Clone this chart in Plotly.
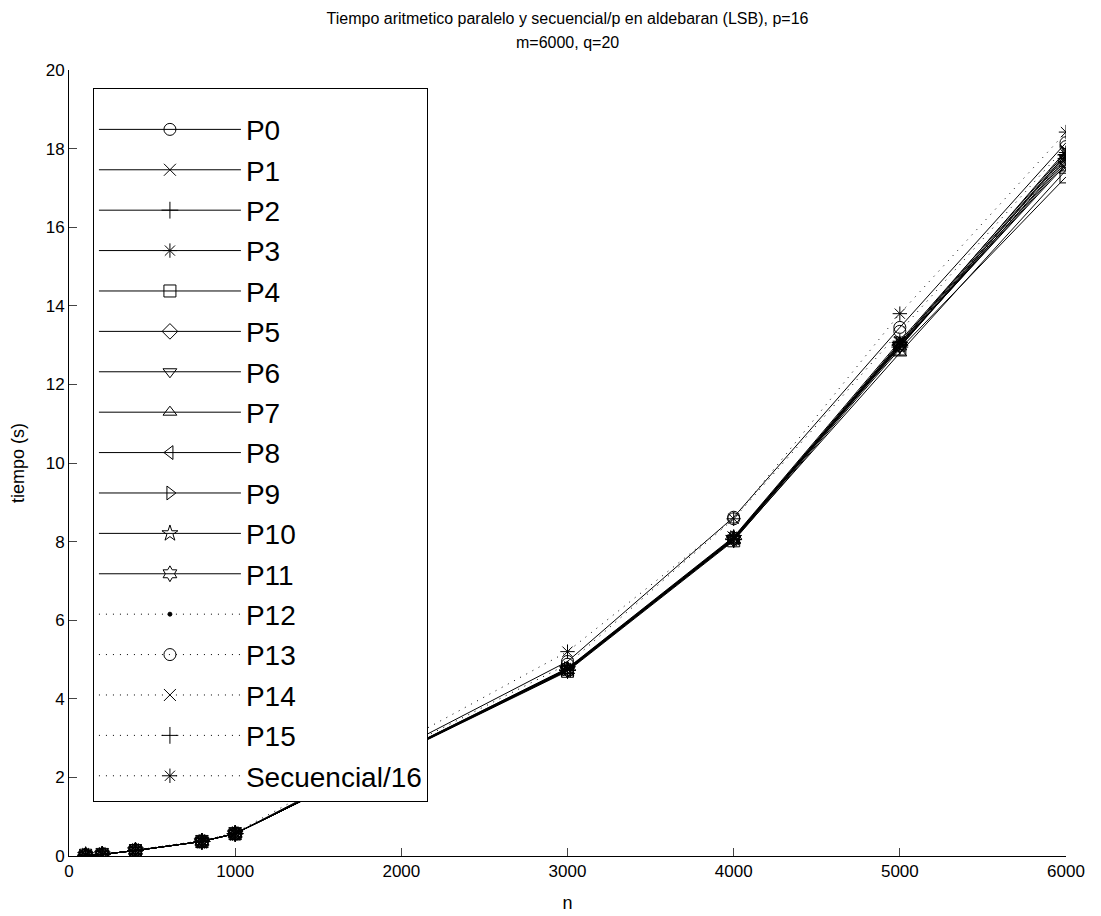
import plotly.graph_objects as go

n = [100, 200, 400, 800, 1000, 3000, 4000, 5000, 6000]

# tiempos (s)
low = [0.02, 0.04, 0.14, 0.37, 0.57]
P0 = low + [4.95, 8.62, 13.45, 18.15]
P1 = low + [4.75, 8.10, 13.05, 17.95]
P2 = low + [4.72, 8.05, 12.95, 17.85]
P3 = low + [4.78, 8.12, 13.10, 17.90]
P4 = low + [4.70, 8.02, 12.90, 17.28]
P5 = low + [4.74, 8.08, 13.00, 17.70]
P6 = low + [4.76, 8.06, 12.95, 17.75]
P7 = low + [4.72, 8.04, 12.80, 17.45]
P8 = low + [4.73, 8.07, 13.02, 17.80]
P9 = low + [4.77, 8.10, 13.05, 17.85]
P10 = low + [4.75, 8.09, 13.00, 17.60]
P11 = low + [4.74, 8.05, 12.98, 17.65]
P12 = low + [4.76, 8.08, 13.05, 17.80]
P13 = low + [4.88, 8.58, 13.35, 18.05]
P14 = low + [4.75, 8.10, 13.08, 17.92]
P15 = low + [4.73, 8.06, 13.00, 17.75]
Sec = [0.02, 0.04, 0.15, 0.39, 0.59, 5.20, 8.58, 13.80, 18.42]

series = [P0, P1, P2, P3, P4, P5, P6, P7, P8, P9, P10, P11, P12, P13, P14, P15, Sec]
names = ["P%d" % i for i in range(16)] + ["Secuencial/16"]
symbols = ["circle-open", "x-thin-open", "cross-thin-open", "asterisk-open",
           "square-open", "diamond-open", "triangle-down-open", "triangle-up-open",
           "triangle-left-open", "triangle-right-open", "star-open", "hexagram-open",
           "circle", "circle-open", "x-thin-open", "cross-thin-open", "asterisk-open"]

fig = go.Figure()
for i, (y, name, sym) in enumerate(zip(series, names, symbols)):
    dotted = i >= 12
    fig.add_trace(go.Scatter(
        x=n, y=y, name=name, legendgroup=name,
        mode="lines+markers",
        line=dict(color="black", width=1, dash="1px,6px" if dotted else "solid"),
        marker=dict(symbol=sym, size=4 if sym == "circle" else 12, color="black",
                    line=dict(color="black", width=1)),
    ))

# la pagina tiene 8px de margen en el body
fig.update_layout(
    width=1101, height=916,
    template="simple_white",
    paper_bgcolor="white", plot_bgcolor="white",
    font=dict(family="Liberation Sans, Arial", size=15, color="black"),
    margin=dict(l=61, r=43, t=62, b=68, autoexpand=False),
    title=dict(text="Tiempo aritmetico paralelo y secuencial/p en aldebaran (LSB), p=16",
               x=0.5, xanchor="center", xref="paper",
               y=1 - 10 / 916, yanchor="middle", yref="container",
               font=dict(size=16), automargin=False),
    legend=dict(x=0.024, y=0.977, xanchor="left", yanchor="top",
                bgcolor="white", bordercolor="black", borderwidth=1,
                font=dict(size=28), itemwidth=142, tracegroupgap=1,
                title=dict(text=" ", font=dict(size=12))),
)
fig.add_annotation(text="m=6000, q=20", x=0.5, xref="paper", y=1.035, yref="paper",
                   xanchor="center", yanchor="middle", showarrow=False,
                   font=dict(size=16))
fig.update_xaxes(range=[0, 6000], dtick=1000, ticks="inside", ticklen=8,
                 showline=True, linecolor="black", linewidth=1, automargin=False,
                 tickfont=dict(size=17), title=dict(text="n", standoff=15))
fig.update_yaxes(range=[0, 20], dtick=2, ticks="inside", ticklen=8,
                 showline=True, linecolor="black", linewidth=1, automargin=False,
                 tickfont=dict(size=17), title=dict(text="tiempo (s)", standoff=18))

fig.write_html("out.html")
